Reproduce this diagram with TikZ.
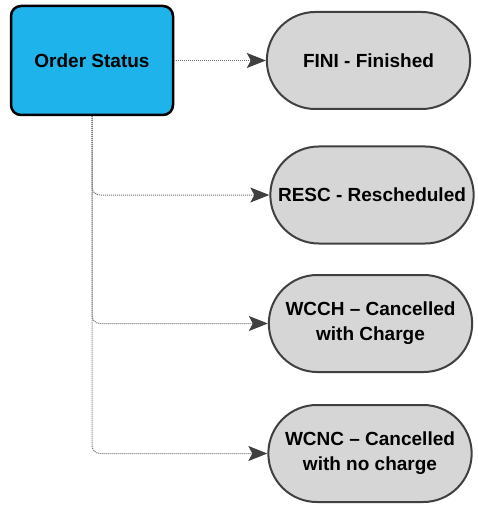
\documentclass[tikz,border=0pt]{standalone}
\usepackage{fontspec}
\setmainfont{Liberation Sans}
\usetikzlibrary{shapes.misc,arrows.meta}
\definecolor{statusblue}{RGB}{30,180,235}
\definecolor{codegray}{RGB}{214,214,214}
\definecolor{edgegray}{RGB}{64,64,64}
\definecolor{linkgray}{RGB}{110,110,110}
\begin{document}
\begin{tikzpicture}[x=1pt,y=-1pt]
	\tikzstyle{every node} = [font=\fontsize{19}{25}\selectfont\bfseries, align=center];
	\tikzstyle{statusbox} = [draw=black, line width=2.5pt, fill=statusblue, rounded corners=10pt, minimum width=162pt, minimum height=109pt];
	\tikzstyle{codebox} = [rounded rectangle, draw=edgegray, line width=2pt, fill=codegray, minimum width=210pt, minimum height=97pt];
	\tikzstyle{link} = [linkgray, line width=1pt, dash pattern=on 1pt off 1pt, rounded corners=8pt, -{Stealth[length=19pt,width=15pt,inset=4pt,fill=edgegray,color=edgegray]}];
	\useasboundingbox (0,0) rectangle (477,505);
	\node[statusbox] (status) at (92,60.5) {Order Status};
	\node[codebox] (fini) at (368.5,60.5) {FINI - Finished};
	\node[codebox] (resc) at (372,195) {RESC - Rescheduled};
	\node[codebox] (wcch) at (370.5,323.5) {WCCH -- Cancelled\\with Charge};
	\node[codebox] (wcnc) at (370,453.5) {WCNC -- Cancelled\\with no charge};
	\draw[link] (status.east) -- (fini.west);
	\foreach \code in {resc,wcch,wcnc} {
		\draw[link] (status.south) |- (\code.west);
		}
\end{tikzpicture}
\end{document}
